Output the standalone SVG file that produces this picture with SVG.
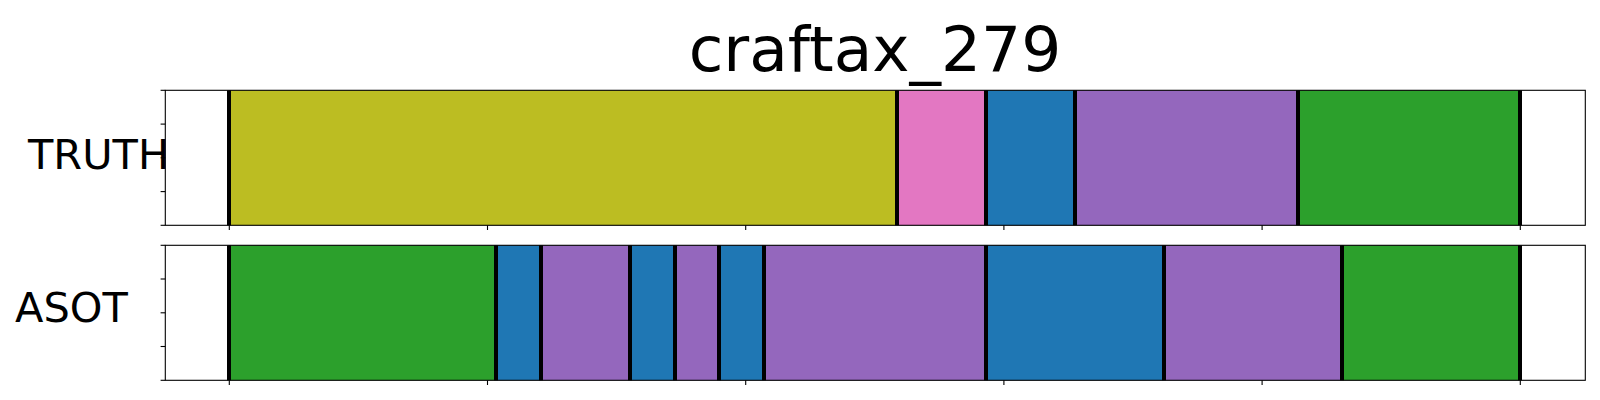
<svg xmlns="http://www.w3.org/2000/svg" width="1600" height="400" viewBox="0 0 1600 400">
<style>
text{font-family:"DejaVu Sans","Liberation Sans",sans-serif;fill:#000}
.sep{stroke:#000;stroke-width:4}
.spine{fill:none;stroke:#000;stroke-width:1.1}
.tick{stroke:#000;stroke-width:1.1}
.olive{fill:#bcbd22}.pink{fill:#e377c2}.blue{fill:#1f77b4}.purple{fill:#9467bd}.green{fill:#2ca02c}
</style>
<rect width="1600" height="400" fill="#fff"/>
<text id="title" x="875" y="71" font-size="63" text-anchor="middle">craftax_279</text>
<g id="truth">
<rect class="olive" x="229" y="90.3" width="668" height="135"/>
<rect class="pink" x="897" y="90.3" width="89" height="135"/>
<rect class="blue" x="986" y="90.3" width="89" height="135"/>
<rect class="purple" x="1075" y="90.3" width="223" height="135"/>
<rect class="green" x="1298" y="90.3" width="222" height="135"/>
<g class="sep">
<line x1="229" y1="90.3" x2="229" y2="225.3"/>
<line x1="897" y1="90.3" x2="897" y2="225.3"/>
<line x1="986" y1="90.3" x2="986" y2="225.3"/>
<line x1="1075" y1="90.3" x2="1075" y2="225.3"/>
<line x1="1298" y1="90.3" x2="1298" y2="225.3"/>
<line x1="1520" y1="90.3" x2="1520" y2="225.3"/>
</g>
<rect class="spine" x="165.3" y="90.3" width="1420" height="135"/>
<g class="tick">
<line x1="160.6" y1="90.3" x2="165.3" y2="90.3"/>
<line x1="160.6" y1="124.1" x2="165.3" y2="124.1"/>
<line x1="160.6" y1="157.8" x2="165.3" y2="157.8"/>
<line x1="160.6" y1="191.6" x2="165.3" y2="191.6"/>
<line x1="160.6" y1="225.3" x2="165.3" y2="225.3"/>
<line x1="229.3" y1="225.3" x2="229.3" y2="230"/>
<line x1="487.5" y1="225.3" x2="487.5" y2="230"/>
<line x1="745.7" y1="225.3" x2="745.7" y2="230"/>
<line x1="1003.9" y1="225.3" x2="1003.9" y2="230"/>
<line x1="1262.1" y1="225.3" x2="1262.1" y2="230"/>
<line x1="1520.3" y1="225.3" x2="1520.3" y2="230"/>
</g>
<text x="28" y="169.3" font-size="41.5">TRUTH</text>
</g>
<g id="asot">
<rect class="green" x="229" y="245.3" width="267" height="135"/>
<rect class="blue" x="496" y="245.3" width="45" height="135"/>
<rect class="purple" x="541" y="245.3" width="89" height="135"/>
<rect class="blue" x="630" y="245.3" width="45" height="135"/>
<rect class="purple" x="675" y="245.3" width="44" height="135"/>
<rect class="blue" x="719" y="245.3" width="45" height="135"/>
<rect class="purple" x="764" y="245.3" width="222" height="135"/>
<rect class="blue" x="986" y="245.3" width="178" height="135"/>
<rect class="purple" x="1164" y="245.3" width="178" height="135"/>
<rect class="green" x="1342" y="245.3" width="178" height="135"/>
<g class="sep">
<line x1="229" y1="245.3" x2="229" y2="380.3"/>
<line x1="496" y1="245.3" x2="496" y2="380.3"/>
<line x1="541" y1="245.3" x2="541" y2="380.3"/>
<line x1="630" y1="245.3" x2="630" y2="380.3"/>
<line x1="675" y1="245.3" x2="675" y2="380.3"/>
<line x1="719" y1="245.3" x2="719" y2="380.3"/>
<line x1="764" y1="245.3" x2="764" y2="380.3"/>
<line x1="986" y1="245.3" x2="986" y2="380.3"/>
<line x1="1164" y1="245.3" x2="1164" y2="380.3"/>
<line x1="1342" y1="245.3" x2="1342" y2="380.3"/>
<line x1="1520" y1="245.3" x2="1520" y2="380.3"/>
</g>
<rect class="spine" x="165.3" y="245.3" width="1420" height="135"/>
<g class="tick">
<line x1="160.6" y1="245.3" x2="165.3" y2="245.3"/>
<line x1="160.6" y1="279" x2="165.3" y2="279"/>
<line x1="160.6" y1="312.8" x2="165.3" y2="312.8"/>
<line x1="160.6" y1="346.5" x2="165.3" y2="346.5"/>
<line x1="160.6" y1="380.3" x2="165.3" y2="380.3"/>
<line x1="229.3" y1="380.3" x2="229.3" y2="385"/>
<line x1="487.5" y1="380.3" x2="487.5" y2="385"/>
<line x1="745.7" y1="380.3" x2="745.7" y2="385"/>
<line x1="1003.9" y1="380.3" x2="1003.9" y2="385"/>
<line x1="1262.1" y1="380.3" x2="1262.1" y2="385"/>
<line x1="1520.3" y1="380.3" x2="1520.3" y2="385"/>
</g>
<text x="15" y="321.7" font-size="41.5">ASOT</text>
</g>
</svg>
